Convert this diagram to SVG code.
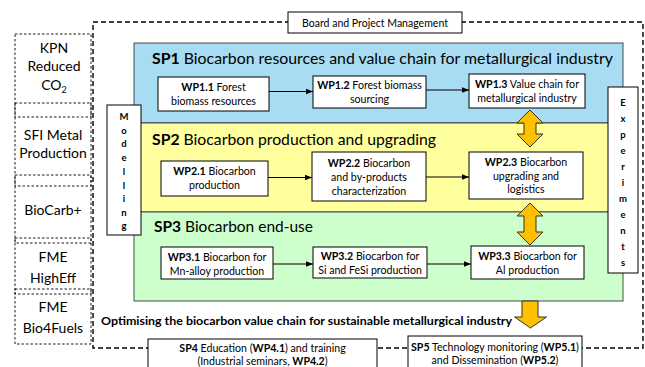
<svg xmlns="http://www.w3.org/2000/svg" width="645" height="367" viewBox="0 0 645 367">
<defs>
<style>
text{font-family:Lato,"Liberation Sans",sans-serif;fill:#000}
.b{font-weight:bold}
.wp{font-size:10.6px;text-anchor:middle}
.title{font-size:16px}
.side{font-size:14px;text-anchor:middle}
.vl{font-size:9.5px;font-weight:bold;text-anchor:middle}
.box{fill:#fff;stroke:#000;stroke-width:1}
.frame{fill:none;stroke:#000;stroke-width:1.4;stroke-dasharray:5 3}
.lbox{fill:none;stroke:#000;stroke-width:0.9;stroke-dasharray:2.5 2}
.panel{stroke:#222;stroke-width:0.8}
.conn{stroke:#000;stroke-width:1.2;fill:none;marker-end:url(#ah)}
.big{fill:#FFC000;stroke:#333;stroke-width:1}
</style>
<marker id="ah" viewBox="0 0 10 10" refX="10" refY="5" markerWidth="7" markerHeight="7" markerUnits="userSpaceOnUse" orient="auto">
<path d="M0,1 L10,5 L0,9 z" fill="#000"/>
</marker>
</defs>
<rect width="645" height="367" fill="#fff"/>

<!-- outer dashed frame -->
<rect id="frame" class="frame" x="93" y="22" width="550" height="326"/>

<!-- left dashed boxes -->
<g id="kpn">
<rect class="lbox" x="15" y="34" width="76" height="83"/>
<text class="side" x="54" y="53">KPN</text>
<text class="side" x="54" y="71">Reduced</text>
<text class="side" x="54" y="90">CO<tspan font-size="9" dy="3">2</tspan></text>
</g>
<g id="sfi">
<rect class="lbox" x="15" y="103" width="76" height="83"/>
<text class="side" x="53" y="140">SFI Metal</text>
<text class="side" x="53" y="158">Production</text>
</g>
<g id="biocarb">
<rect class="lbox" x="15" y="175" width="76" height="68"/>
<text class="side" x="53" y="215">BioCarb+</text>
</g>
<g id="higheff">
<rect class="lbox" x="15" y="238" width="76" height="56"/>
<text class="side" x="53" y="262">FME</text>
<text class="side" x="53" y="283">HighEff</text>
</g>
<g id="bio4fuels">
<rect class="lbox" x="15" y="289" width="76" height="55"/>
<text class="side" x="53" y="312">FME</text>
<text class="side" x="53" y="333">Bio4Fuels</text>
</g>

<!-- panels -->
<g id="sp1">
<rect class="panel" x="134" y="43" width="489" height="80" fill="#A8DCF2"/>
<text class="title" x="152" y="63.5" textLength="461" lengthAdjust="spacingAndGlyphs"><tspan class="b">SP1</tspan> Biocarbon resources and value chain for metallurgical industry</text>
</g>
<g id="sp2">
<rect class="panel" x="134" y="123" width="489" height="89" fill="#FFFF9E"/>
<text class="title" x="152" y="145" textLength="284" lengthAdjust="spacingAndGlyphs"><tspan class="b">SP2</tspan> Biocarbon production and upgrading</text>
</g>
<g id="sp3">
<rect class="panel" x="134" y="212" width="489" height="89" fill="#CCFFCC"/>
<text class="title" x="154" y="232" textLength="159" lengthAdjust="spacingAndGlyphs"><tspan class="b">SP3</tspan> Biocarbon end-use</text>
</g>

<!-- board -->
<g id="board">
<rect class="box" x="288" y="12" width="174" height="21"/>
<text class="wp" x="375" y="26.5" textLength="146" lengthAdjust="spacingAndGlyphs">Board and Project Management</text>
</g>

<!-- modelling / experiments -->
<g id="modelling">
<rect class="box" x="107" y="105" width="34" height="130"/>
<text class="vl" x="124" y="120">M</text>
<text class="vl" x="124" y="133.5">o</text>
<text class="vl" x="124" y="147">d</text>
<text class="vl" x="124" y="161">e</text>
<text class="vl" x="124" y="175">l</text>
<text class="vl" x="124" y="188.5">l</text>
<text class="vl" x="124" y="202">i</text>
<text class="vl" x="124" y="215.5">n</text>
<text class="vl" x="124" y="229">g</text>
</g>
<g id="experiments">
<rect class="box" x="608" y="87" width="30" height="186"/>
<text class="vl" x="623" y="105.5">E</text>
<text class="vl" x="623" y="121.5">x</text>
<text class="vl" x="623" y="137.5">p</text>
<text class="vl" x="623" y="153.5">e</text>
<text class="vl" x="623" y="169.5">r</text>
<text class="vl" x="623" y="185.5">i</text>
<text class="vl" x="623" y="201.5">m</text>
<text class="vl" x="623" y="217.5">e</text>
<text class="vl" x="623" y="233.5">n</text>
<text class="vl" x="623" y="249.5">t</text>
<text class="vl" x="623" y="265.5">s</text>
</g>

<!-- WP boxes -->
<g id="wp11">
<rect class="box" x="158" y="77" width="111" height="34"/>
<text class="wp" x="213.5" y="91"><tspan class="b">WP1.1</tspan> Forest</text>
<text class="wp" x="213.5" y="104.5">biomass resources</text>
</g>
<g id="wp12">
<rect class="box" x="313" y="76" width="113" height="32"/>
<text class="wp" x="369.5" y="88.5"><tspan class="b">WP1.2</tspan> Forest biomass</text>
<text class="wp" x="369.5" y="102.5">sourcing</text>
</g>
<g id="wp13">
<rect class="box" x="469" y="74" width="116" height="34"/>
<text class="wp" x="527" y="88"><tspan class="b">WP1.3</tspan>  Value chain for</text>
<text class="wp" x="527" y="102">metallurgical industry</text>
</g>
<g id="wp21">
<rect class="box" x="161" y="161" width="107" height="35"/>
<text class="wp" x="214.5" y="175"><tspan class="b">WP2.1</tspan> Biocarbon</text>
<text class="wp" x="214.5" y="189">production</text>
</g>
<g id="wp22">
<rect class="box" x="312" y="152" width="114" height="49"/>
<text class="wp" x="369" y="167"><tspan class="b">WP2.2</tspan> Biocarbon</text>
<text class="wp" x="369" y="181">and by-products</text>
<text class="wp" x="369" y="194.5">characterization</text>
</g>
<g id="wp23">
<rect class="box" x="469" y="152" width="114" height="47"/>
<text class="wp" x="526" y="165.5"><tspan class="b">WP2.3</tspan> Biocarbon</text>
<text class="wp" x="526" y="179.5">upgrading and</text>
<text class="wp" x="526" y="193">logistics</text>
</g>
<g id="wp31">
<rect class="box" x="161" y="247" width="112" height="32"/>
<text class="wp" x="217" y="261"><tspan class="b">WP3.1</tspan> Biocarbon for</text>
<text class="wp" x="217" y="274.5">Mn-alloy production</text>
</g>
<g id="wp32">
<rect class="box" x="313" y="247" width="114" height="31"/>
<text class="wp" x="370" y="260"><tspan class="b">WP3.2</tspan> Biocarbon for</text>
<text class="wp" x="370" y="274">Si and FeSi production</text>
</g>
<g id="wp33">
<rect class="box" x="471" y="246" width="113" height="33"/>
<text class="wp" x="527.5" y="260"><tspan class="b">WP3.3</tspan> Biocarbon for</text>
<text class="wp" x="527.5" y="273.5">Al production</text>
</g>

<!-- bottom text and boxes -->
<text id="optimising" class="b" x="101" y="325" font-size="11.5" textLength="411" lengthAdjust="spacingAndGlyphs">Optimising the biocarbon value chain for sustainable metallurgical industry</text>
<g id="sp4">
<rect class="box" x="148" y="339" width="229" height="32"/>
<text class="wp" x="262.5" y="351.5"><tspan class="b">SP4</tspan> Education (<tspan class="b">WP4.1</tspan>) and training</text>
<text class="wp" x="262.5" y="364.5">(Industrial seminars, <tspan class="b">WP4.2</tspan>)</text>
</g>
<g id="sp5">
<rect class="box" x="408" y="336" width="174" height="35"/>
<text class="wp" x="495" y="350.5"><tspan class="b">SP5</tspan> Technology monitoring (<tspan class="b">WP5.1</tspan>)</text>
<text class="wp" x="495" y="364">and Dissemination (<tspan class="b">WP5.2</tspan>)</text>
</g>

<!-- connectors -->
<g id="connectors">
<line class="conn" x1="269" y1="91.5" x2="313" y2="91.5"/>
<line class="conn" x1="426" y1="90" x2="469" y2="90"/>
<line class="conn" x1="268" y1="177.5" x2="312" y2="177.5"/>
<line class="conn" x1="426" y1="177" x2="469" y2="177"/>
<line class="conn" x1="273" y1="264" x2="313" y2="264"/>
<line class="conn" x1="427" y1="264" x2="471" y2="264"/>
<polygon class="big" points="530,110 543,123 536,123 536,134 543,134 530,147 517,134 524,134 524,123 517,123"/>
<polygon class="big" points="530,203 543,216 536,216 536,232 543,232 530,245 517,232 524,232 524,216 517,216"/>
<polygon class="big" points="522,301 538,301 538,317 546.5,317 530.5,328 514.5,317 522,317"/>
</g>
</svg>
